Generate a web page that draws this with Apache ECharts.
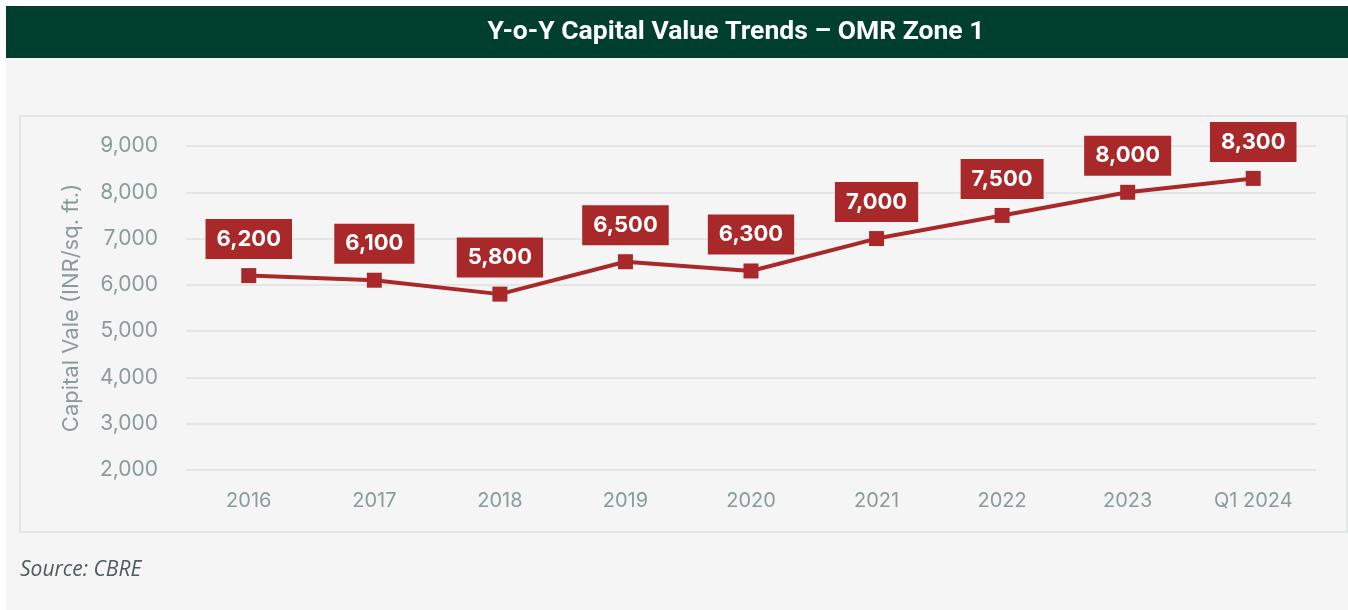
<!DOCTYPE html>
<html lang="en">
<head>
    <meta charset="UTF-8">
    <title>Y-o-Y Capital Value Trends – OMR Zone 1</title>
    <script src="https://cdn.jsdelivr.net/npm/echarts@6/dist/echarts.min.js"></script>
    <style>
        html, body, #chart {
            width: 100%;
            height: 100%;
            margin: 0;
            padding: 0;
        }
        body {
            overflow: hidden;
            background: #fff;
        }
    </style>
</head>
<body>
    <div id="chart"></div>
    <script>
        // categories and values
        const years = ['2016', '2017', '2018', '2019', '2020', '2021', '2022', '2023', 'Q1 2024'];
        const capitalValues = [6200, 6100, 5800, 6500, 6300, 7000, 7500, 8000, 8300];

        const red = '#a9292b';
        const gray = '#8a9b9b';

        function withComma(v) {
            return String(v).replace(/\B(?=(\d{3})+(?!\d))/g, ',');
        }

        var chart = echarts.init(document.getElementById('chart'));

        var option = {
            backgroundColor: '#fff',
            textStyle: { fontFamily: 'Inter, sans-serif' },
            graphic: [
                // light panel
                { type: 'rect', z: -10, shape: { x: 6, y: 6, width: 1342, height: 604 }, style: { fill: '#f5f5f5' } },
                // header band
                { type: 'rect', z: -9, shape: { x: 6, y: 6, width: 1342, height: 52 }, style: { fill: '#003f2d' } },
                // chart box
                { type: 'rect', z: -8, shape: { x: 20, y: 116, width: 1327, height: 416 }, style: { fill: 'none', stroke: '#e2e7e5', lineWidth: 2 } },
                // source note
                {
                    type: 'text', left: 20, top: 560,
                    style: { text: 'Source: CBRE', fill: '#4d5b5b', font: 'italic 21px "Open Sans", sans-serif' }
                }
            ],
            title: {
                text: 'Y-o-Y Capital Value Trends – OMR Zone 1',
                left: 731,
                textAlign: 'center',
                top: 14,
                textStyle: {
                    color: '#fff',
                    fontSize: 26.5,
                    fontWeight: 'bold',
                    fontFamily: 'Roboto, sans-serif'
                }
            },
            grid: {
                left: 186,
                right: 32,
                top: 146,
                bottom: 140
            },
            xAxis: {
                type: 'category',
                data: years,
                axisLine: { show: false },
                axisTick: { show: false },
                axisLabel: {
                    color: gray,
                    fontSize: 20,
                    margin: 21
                }
            },
            yAxis: {
                type: 'value',
                min: 2000,
                max: 9000,
                interval: 1000,
                name: 'Capital Vale (INR/sq. ft.)',
                nameLocation: 'middle',
                nameGap: 104,
                nameTextStyle: { color: gray, fontSize: 22 },
                axisLine: { show: false },
                axisTick: { show: false },
                axisLabel: {
                    color: gray,
                    fontSize: 21,
                    margin: 28,
                    formatter: withComma
                },
                splitLine: { lineStyle: { color: '#e2e7e5', width: 2 } }
            },
            series: [
                {
                    name: 'Capital Value',
                    type: 'line',
                    data: capitalValues,
                    symbol: 'rect',
                    symbolSize: 15,
                    lineStyle: { color: red, width: 4 },
                    itemStyle: { color: red },
                    label: {
                        show: true,
                        position: 'top',
                        distance: 9,
                        formatter: p => withComma(p.value),
                        backgroundColor: red,
                        color: '#fff',
                        fontSize: 22,
                        fontWeight: 'bold',
                        fontFamily: 'Inter, sans-serif',
                        padding: [9, 11, 9, 11]
                    }
                }
            ]
        };

        chart.setOption(option);
        window.addEventListener('resize', function () {
            chart.resize();
        });
    </script>
</body>
</html>
